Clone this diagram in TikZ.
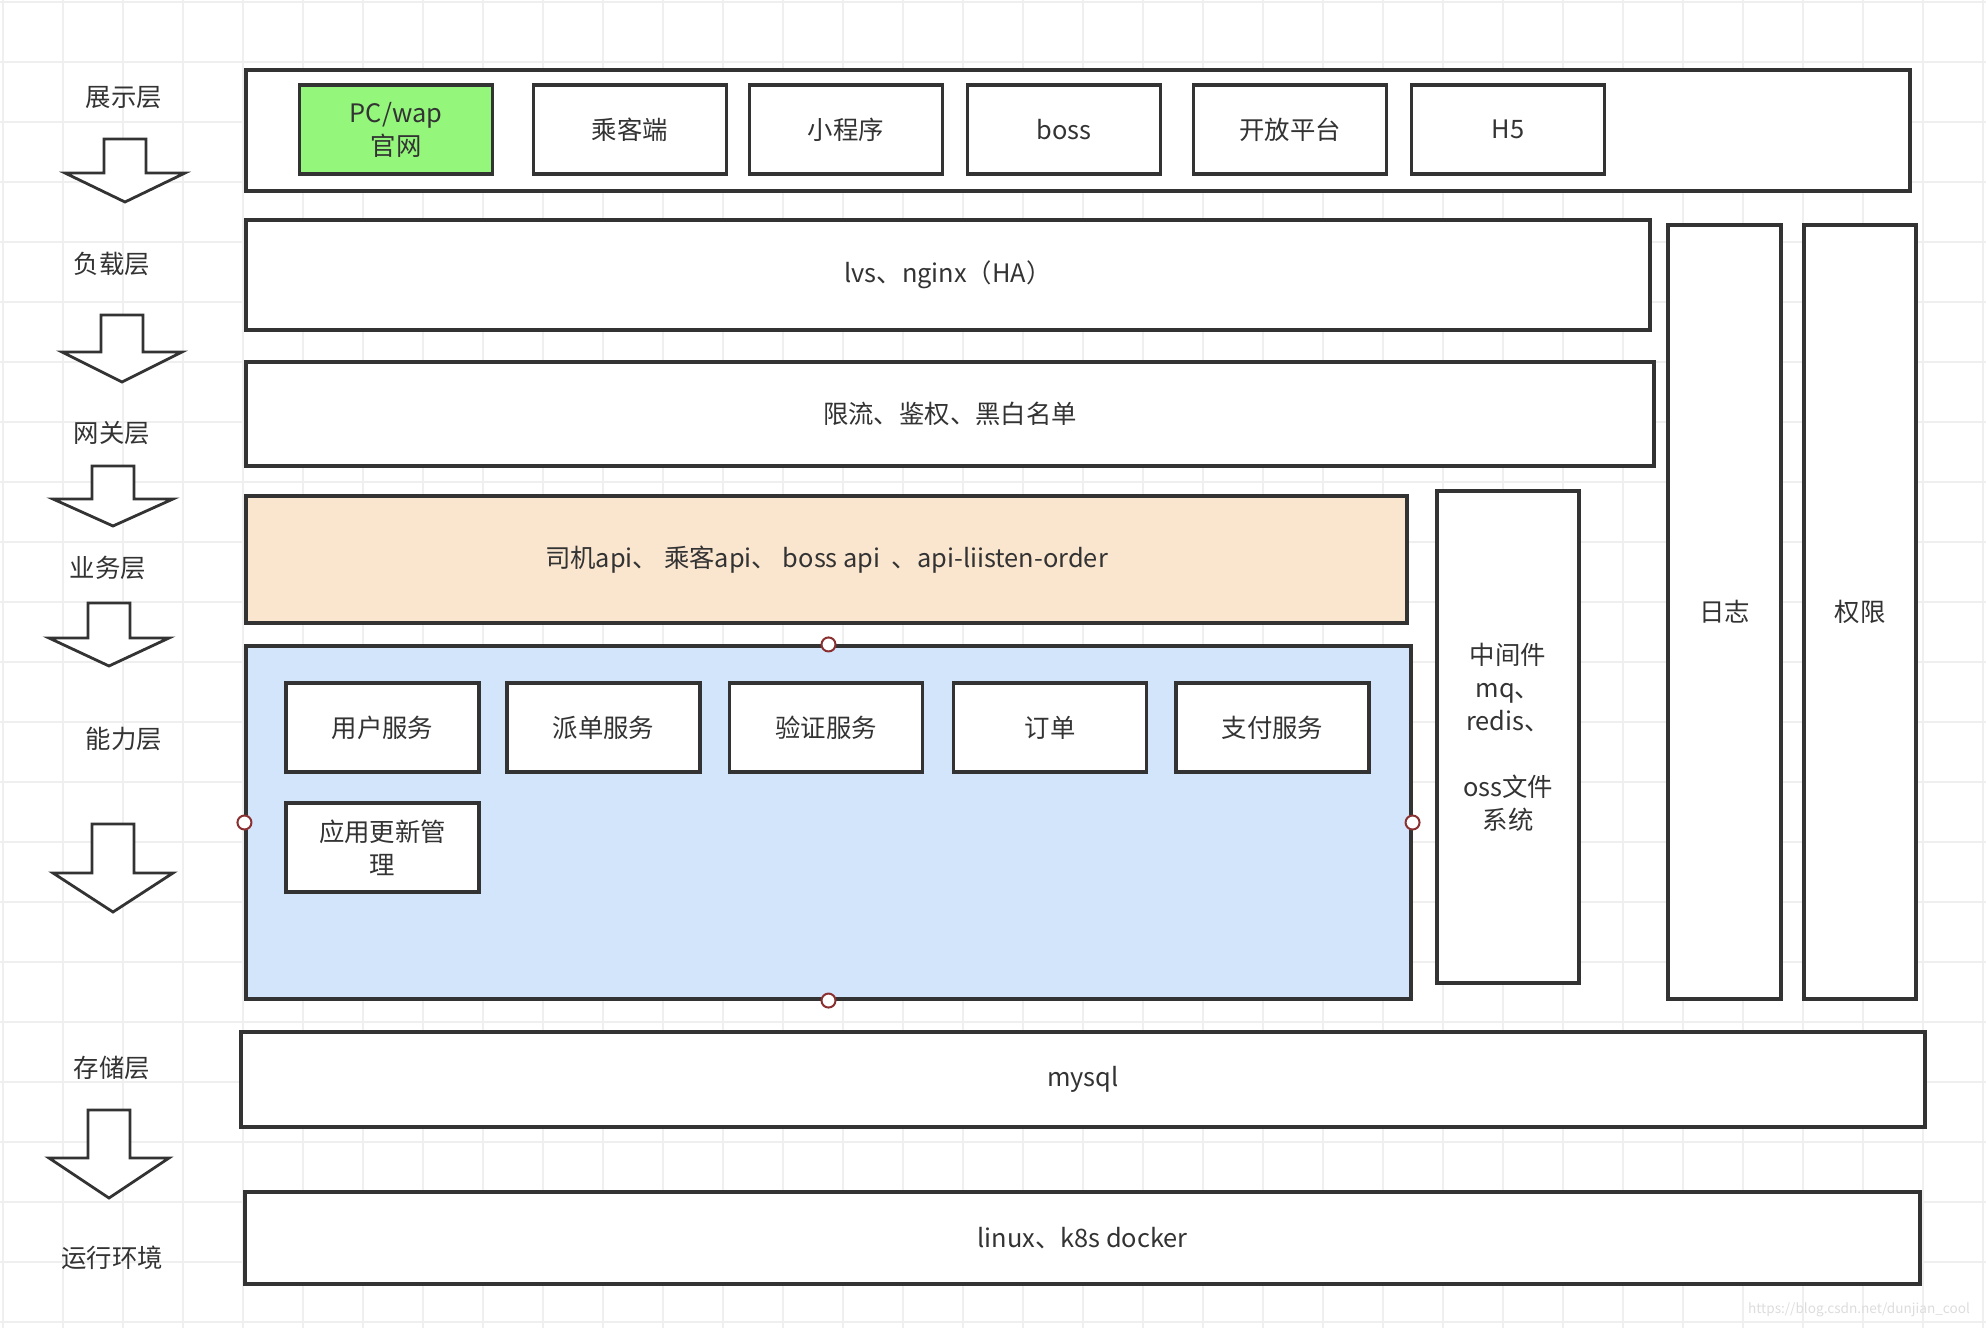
\documentclass[tikz,border=0pt]{standalone}
\usepackage{fontspec}
\setmainfont{Noto Sans CJK SC}
\usetikzlibrary{positioning}
\definecolor{Ink}{HTML}{333333}
\definecolor{GridLine}{HTML}{EFEFEF}
\definecolor{Leaf}{HTML}{94F77C}
\definecolor{Peach}{HTML}{FAE6CF}
\definecolor{Sky}{HTML}{D3E5FB}
\definecolor{Pin}{HTML}{8B3030}
\definecolor{Mark}{HTML}{DDDDDD}
\newdimen\px \px=0.5pt
\tikzset{
  layerbox/.style={draw=Ink,fill=white,line width=1.55pt,align=center,font=\fontsize{12.7}{16.5}\selectfont,text=Ink,inner sep=0pt},
  itembox/.style={layerbox,minimum width=193\px,minimum height=89\px},
  tag/.style={font=\fontsize{12.7}{16.5}\selectfont,text=Ink},
  pin/.style={circle,draw=Pin,fill=white,line width=1pt,minimum size=14\px,inner sep=0pt},
  blockarrow/.style={draw=Ink,fill=white,line width=1.4pt,line join=miter},
  gridline/.style={draw=GridLine,line width=1pt}
}

\begin{document}
\begin{tikzpicture}[x=0.5pt,y=-0.5pt]
  \useasboundingbox (0,0) rectangle (1986,1328);
  \fill[white] (0,0) rectangle (1986,1328);
  % background grid
  \foreach \gx in {3,63,...,1983} \draw[gridline] (\gx,0) -- (\gx,1328);
  \foreach \gy in {2,62,...,1322} \draw[gridline] (0,\gy) -- (1986,\gy);

  % layer names on the left
  \node[tag] (t-show) at (124,98) {展示层};
  \node[tag] (t-load) at (112,264) {负载层};
  \node[tag] (t-gate) at (112,433) {网关层};
  \node[tag] (t-biz) at (108,568) {业务层};
  \node[tag] (t-cap) at (124,739) {能力层};
  \node[tag] (t-store) at (112,1068) {存储层};
  \node[tag] (t-env) at (112,1258) {运行环境};

  % block arrows between the names
  \foreach \ax/\at/\as/\ap in {125/139/173/202,122/315/352/382,113/466/499/526,109/603/638/666,113/824/873/912,109/1110/1158/1198}
    \draw[blockarrow] (\ax-21,\at) -- (\ax+21,\at) -- (\ax+21,\as) -- (\ax+60,\as) -- (\ax,\ap) -- (\ax-60,\as) -- (\ax-21,\as) -- cycle;

  % layers
  \node[layerbox,minimum width=1664\px,minimum height=121\px] (show) at (1078,130.5) {};
  \node[layerbox,minimum width=1404\px,minimum height=110\px] (load) at (948,275) {\raisebox{-2pt}{lvs、nginx（HA）}};
  \node[layerbox,minimum width=1408\px,minimum height=104\px] (gate) at (950,414) {限流、鉴权、黑白名单};
  \node[layerbox,fill=Peach,minimum width=1161\px,minimum height=127\px] (biz) at (826.5,559.5) {\raisebox{-1pt}{司机api、 乘客api、 boss api\ \ 、api-liisten-order}};
  \node[layerbox,fill=Sky,minimum width=1165\px,minimum height=353\px] (cap) at (828.5,822.5) {};
  \node[layerbox,minimum width=142\px,minimum height=492\px] (mid) at (1508,737) {中间件\\mq、\\redis、\\[16.5pt]oss文件\\系统};
  \node[layerbox,minimum width=113\px,minimum height=774\px] (log) at (1724.5,612) {日志};
  \node[layerbox,minimum width=112\px,minimum height=774\px] (auth) at (1860,612) {权限};
  \node[layerbox,minimum width=1684\px,minimum height=95\px] (db) at (1083,1079.5) {mysql};
  \node[layerbox,minimum width=1675\px,minimum height=92\px] (env) at (1082.5,1238) {linux、k8s docker};

  % clients
  \node[itembox,fill=Leaf] (web) at (396,129.5) {PC/wap\\官网};
  \node[itembox] (rider) at (630,129.5) {乘客端};
  \node[itembox] (mini) at (846,129.5) {小程序};
  \node[itembox] (boss) at (1064,129.5) {boss};
  \node[itembox] (open) at (1290,129.5) {开放平台};
  \node[itembox] (h5) at (1508,129.5) {H5};

  % services
  \node[itembox] (user) at (382.5,727.5) {用户服务};
  \node[itembox] (dispatch) at (603.5,727.5) {派单服务};
  \node[itembox] (verify) at (826,727.5) {验证服务};
  \node[itembox] (order) at (1050,727.5) {订单};
  \node[itembox] (pay) at (1272.5,727.5) {支付服务};
  \node[itembox] (update) at (382.5,847.5) {应用更新管\\理};

  % handles on the blue box
  \node[pin] (cap-n) at (cap.north) {};
  \node[pin] (cap-s) at (cap.south) {};
  \node[pin] (cap-w) at (cap.west) {};
  \node[pin] (cap-e) at (cap.east) {};

  \node[font=\fontsize{6.8}{8}\selectfont,text=Mark] (mark) at (1859,1310) {https://blog.csdn.net/dunjian\_cool};
\end{tikzpicture}
\end{document}
